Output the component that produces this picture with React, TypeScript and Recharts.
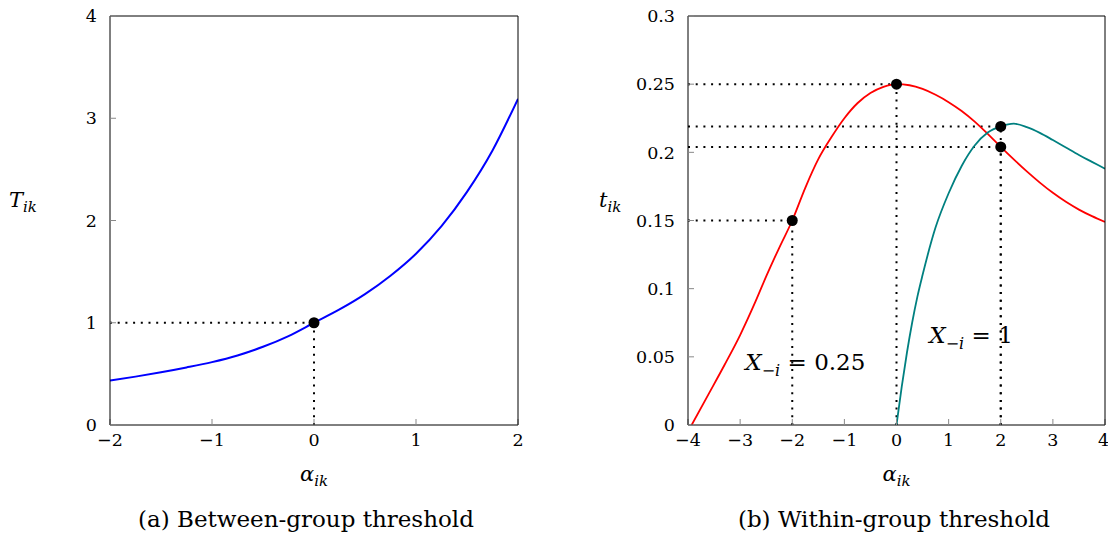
import React from 'react';
import {
  LineChart,
  Line,
  XAxis,
  YAxis,
  ReferenceLine,
  ReferenceDot,
} from 'recharts';

const FONT = '"DejaVu Serif", "Liberation Serif", serif';

// (a) between-group threshold T_ik against alpha_ik
const alphaA = [-2, -1.75, -1.5, -1.25, -1, -0.75, -0.5, -0.25, 0, 0.25, 0.5, 0.75, 1, 1.25, 1.5, 1.75, 2];
const thresholdA = [0.434, 0.473, 0.516, 0.563, 0.615, 0.68, 0.765, 0.87, 1.0, 1.13, 1.28, 1.46, 1.675, 1.945, 2.28, 2.685, 3.19];
const ticksXA = [-2, -1, 0, 1, 2];
const ticksYA = [0, 1, 2, 3, 4];
const markersA = [{ x: 0, y: 1 }];

// (b) within-group threshold t_ik, X_{-i} = 0.25 (red) and X_{-i} = 1 (teal)
const alphaRed = [-3.93, -3.6, -3.3, -3, -2.7, -2.5, -2.25, -2, -1.75, -1.5, -1.25, -1, -0.75, -0.5, -0.25, 0, 0.25, 0.5, 0.75, 1, 1.25, 1.5, 1.75, 2, 2.25, 2.5, 2.75, 3, 3.25, 3.5, 3.75, 4];
const thresholdRed = [0, 0.023, 0.044, 0.066, 0.091, 0.109, 0.13, 0.15, 0.174, 0.195, 0.211, 0.225, 0.236, 0.2435, 0.248, 0.25, 0.2492, 0.2465, 0.2422, 0.2368, 0.2303, 0.2225, 0.2135, 0.204, 0.1948, 0.186, 0.1778, 0.1703, 0.1637, 0.158, 0.1532, 0.149];
const alphaTeal = [0, 0.1, 0.2, 0.3, 0.4, 0.5, 0.75, 1, 1.25, 1.5, 1.75, 2, 2.25, 2.5, 2.75, 3, 3.25, 3.5, 3.75, 4];
const thresholdTeal = [0, 0.028, 0.053, 0.075, 0.094, 0.11, 0.145, 0.17, 0.19, 0.205, 0.2145, 0.219, 0.221, 0.2185, 0.2143, 0.209, 0.2035, 0.198, 0.193, 0.188];
const ticksXB = [-4, -3, -2, -1, 0, 1, 2, 3, 4];
const ticksYB = [0, 0.05, 0.1, 0.15, 0.2, 0.25, 0.3];
const markersB = [
  { x: -2, y: 0.15 },
  { x: 0, y: 0.25 },
  { x: 2, y: 0.219 },
  { x: 2, y: 0.204 },
];
const labelRed = { x: -2.9, y: 0.0405, text: '0.25' };
const labelTeal = { x: 0.63, y: 0.06, text: '1' };

const seriesA = alphaA.map((x, i) => ({ x, y: thresholdA[i] }));
const seriesRed = alphaRed.map((x, i) => ({ x, y: thresholdRed[i] }));
const seriesTeal = alphaTeal.map((x, i) => ({ x, y: thresholdTeal[i] }));

const fmt = (v: number) => (v < 0 ? '\u2212' + Math.abs(v) : String(v));

const tickStyle = { fill: '#000', fontSize: 17.5, fontFamily: FONT };
const DOTTED = '2 5.7';

const AxisTitleX = ({ viewBox, main, sub }: any) => (
  <text
    x={viewBox.x + viewBox.width / 2}
    y={viewBox.y + 56}
    textAnchor="middle"
    fontFamily={FONT}
    fontSize={21}
    fontStyle="italic"
    fill="#000"
  >
    {main}
    <tspan fontSize={15} dy={5}>{sub}</tspan>
  </text>
);

const AxisTitleY = ({ viewBox, main, sub, shift }: any) => (
  <text
    x={viewBox.x + shift}
    y={viewBox.y + 191}
    fontFamily={FONT}
    fontSize={21}
    fontStyle="italic"
    fill="#000"
  >
    {main}
    <tspan fontSize={15} dy={5}>{sub}</tspan>
  </text>
);

const CurveNote = ({ viewBox, text }: any) => (
  <text x={viewBox.x} y={viewBox.y} fontFamily={FONT} fontSize={23} fill="#000">
    <tspan fontStyle="italic">X</tspan>
    <tspan fontSize={16} dy={6}>{'\u2212'}</tspan>
    <tspan fontSize={16} fontStyle="italic">i</tspan>
    <tspan dy={-6}>{'\u00a0=\u00a0' + text}</tspan>
  </text>
);

const guideLines = (markers: { x: number; y: number }[], xMin: number) =>
  markers.flatMap((m, i) => [
    <ReferenceLine
      key={'h' + i}
      segment={[{ x: xMin, y: m.y }, { x: m.x, y: m.y }]}
      stroke="#000"
      strokeWidth={2}
      strokeDasharray={DOTTED}
    />,
    <ReferenceLine
      key={'v' + i}
      segment={[{ x: m.x, y: 0 }, { x: m.x, y: m.y }]}
      stroke="#000"
      strokeWidth={2}
      strokeDasharray={DOTTED}
    />,
  ]);

const dots = (markers: { x: number; y: number }[]) =>
  markers.map((m, i) => (
    <ReferenceDot key={'d' + i} x={m.x} y={m.y} r={5.5} fill="#000" stroke="none" />
  ));

const frameAxes = (xDomain: number[], xTicks: number[], yDomain: number[], yTicks: number[], xLabel: any, yLabel: any) => [
  <XAxis
    key="xb"
    dataKey="x"
    type="number"
    domain={xDomain}
    ticks={xTicks}
    tickFormatter={fmt}
    allowDataOverflow
    height={60}
    tickSize={-6}
    tickMargin={15}
    tick={tickStyle}
    tickLine={{ stroke: '#888' }}
    axisLine={{ stroke: '#000' }}
    label={xLabel}
  />,
  <XAxis
    key="xt"
    xAxisId="top"
    orientation="top"
    dataKey="x"
    type="number"
    domain={xDomain}
    ticks={xTicks}
    height={1}
    tickSize={-6}
    tick={false}
    tickLine={{ stroke: '#888' }}
    axisLine={{ stroke: '#000' }}
  />,
  <YAxis
    key="yl"
    type="number"
    domain={yDomain}
    ticks={yTicks}
    tickFormatter={fmt}
    allowDataOverflow
    width={60}
    tickSize={-6}
    tickMargin={19}
    tick={tickStyle}
    tickLine={{ stroke: '#888' }}
    axisLine={{ stroke: '#000' }}
    label={yLabel}
  />,
  <YAxis
    key="yr"
    yAxisId="right"
    orientation="right"
    type="number"
    domain={yDomain}
    ticks={yTicks}
    width={1}
    tickSize={-6}
    tick={false}
    tickLine={{ stroke: '#888' }}
    axisLine={{ stroke: '#000' }}
  />,
];

const captionStyle = (center: number): React.CSSProperties => ({
  position: 'absolute',
  left: center - 250,
  width: 500,
  top: 506,
  textAlign: 'center',
  fontFamily: FONT,
  fontSize: 23,
  lineHeight: '27px',
  color: '#000',
  whiteSpace: 'nowrap',
});

const App: React.FC = () => {
  return (
    <div style={{ position: 'absolute', left: 0, top: 0, width: 1108, height: 538, background: '#fff' }}>
      <div style={{ position: 'absolute', left: 0, top: 0 }}>
        <LineChart width={560} height={538} data={seriesA} margin={{ top: 15, right: 41, bottom: 53, left: 50 }}>
          {frameAxes(
            [-2, 2],
            ticksXA,
            [0, 4],
            ticksYA,
            <AxisTitleX main={'\u03b1'} sub="ik" />,
            <AxisTitleY main="T" sub="ik" shift={-41} />
          )}
          {guideLines(markersA, -2)}
          <Line
            type="monotone"
            dataKey="y"
            stroke="#0000ff"
            strokeWidth={2}
            dot={false}
            activeDot={false}
            isAnimationActive={false}
          />
          {dots(markersA)}
        </LineChart>
      </div>
      <div style={{ position: 'absolute', left: 560, top: 0 }}>
        <LineChart width={548} height={538} margin={{ top: 15, right: 2, bottom: 53, left: 68 }}>
          {frameAxes(
            [-4, 4],
            ticksXB,
            [0, 0.3],
            ticksYB,
            <AxisTitleX main={'\u03b1'} sub="ik" />,
            <AxisTitleY main="t" sub="ik" shift={-29} />
          )}
          {guideLines(markersB, -4)}
          <Line
            data={seriesRed}
            type="monotone"
            dataKey="y"
            stroke="#ff0000"
            strokeWidth={1.8}
            dot={false}
            activeDot={false}
            isAnimationActive={false}
          />
          <Line
            data={seriesTeal}
            type="monotone"
            dataKey="y"
            stroke="#008080"
            strokeWidth={1.8}
            dot={false}
            activeDot={false}
            isAnimationActive={false}
          />
          {dots(markersB)}
          <ReferenceDot x={labelRed.x} y={labelRed.y} r={0} fill="none" stroke="none" label={<CurveNote text={labelRed.text} />} />
          <ReferenceDot x={labelTeal.x} y={labelTeal.y} r={0} fill="none" stroke="none" label={<CurveNote text={labelTeal.text} />} />
        </LineChart>
      </div>
      <div style={captionStyle(306)}>(a) Between-group threshold</div>
      <div style={captionStyle(894)}>(b) Within-group threshold</div>
    </div>
  );
};

export default App;
